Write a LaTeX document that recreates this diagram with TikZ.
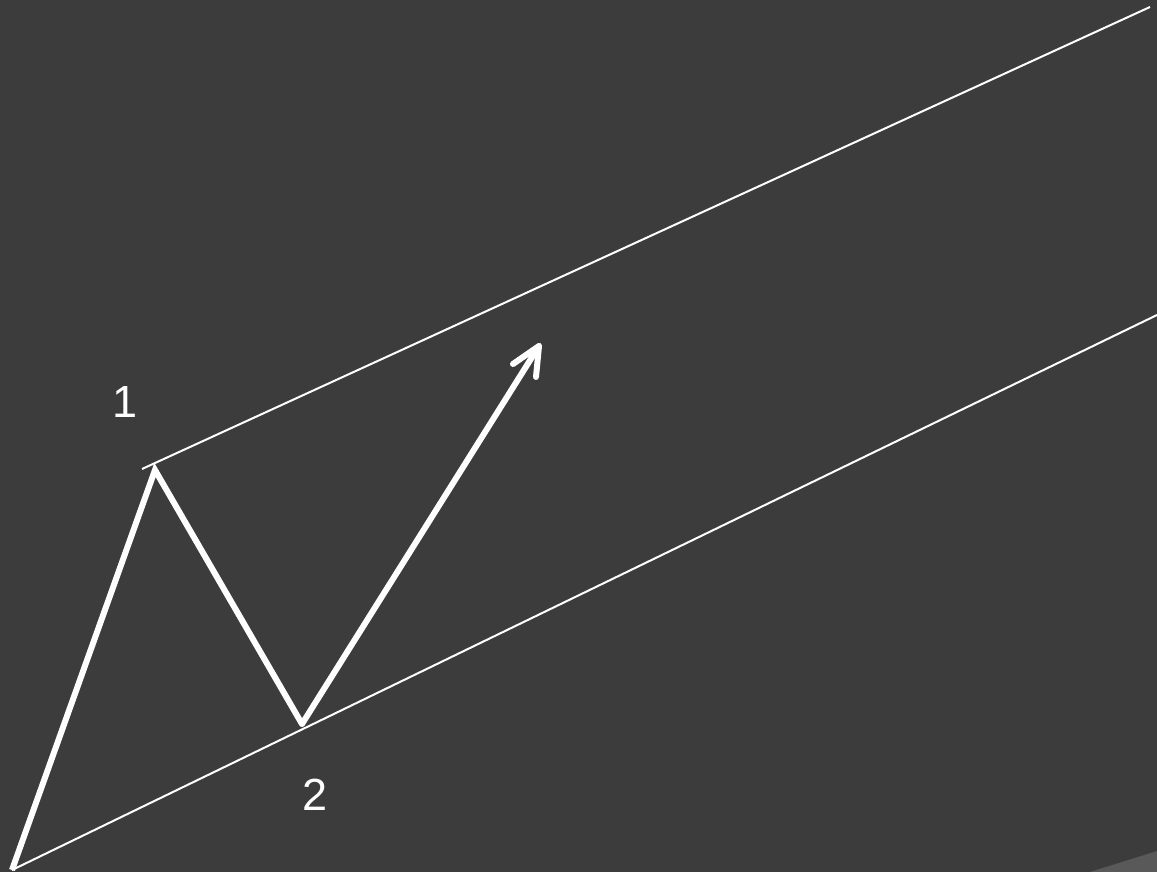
\documentclass[tikz,border=0pt]{standalone}
\usepackage{fontspec}
\setmainfont{Liberation Sans}
\usetikzlibrary{arrows.meta}
\definecolor{bg}{HTML}{3C3C3C}
\definecolor{corner}{HTML}{595959}
\begin{document}
\begin{tikzpicture}[x=1pt,y=-1pt,
  thinline/.style={draw=white,line width=2pt},
  zig/.style={draw=white,line width=6pt,line join=miter,line cap=butt},
  lbl/.style={text=white,font=\fontsize{45}{54}\selectfont,inner sep=0pt}]
\fill[bg] (0,0) rectangle (1157,872);
\useasboundingbox (0,0) rectangle (1157,872);
\fill[corner] (1090,872) -- (1157,851) -- (1157,872) -- cycle;
\coordinate (A) at (12,870);
\coordinate (B) at (155,470);
\coordinate (C) at (302,724);
\coordinate (D) at (539,346);
\coordinate (T1) at (142,469);
\coordinate (T2) at (1150,7);
\coordinate (B2) at (1157,315);
\draw[thinline] (T1) -- (T2);
\draw[thinline] (A) -- (B2);
\draw[zig] (A) -- (B) -- (C);
\draw[white,line width=6pt,line cap=round] (C) -- (D);
\draw[white,line width=6pt,line cap=round,line join=round] (513,364) -- (D) -- (536,377);
\node[lbl] (n1) at (125,402) {1};
\node[lbl] (n2) at (315,795) {2};
\end{tikzpicture}
\end{document}
